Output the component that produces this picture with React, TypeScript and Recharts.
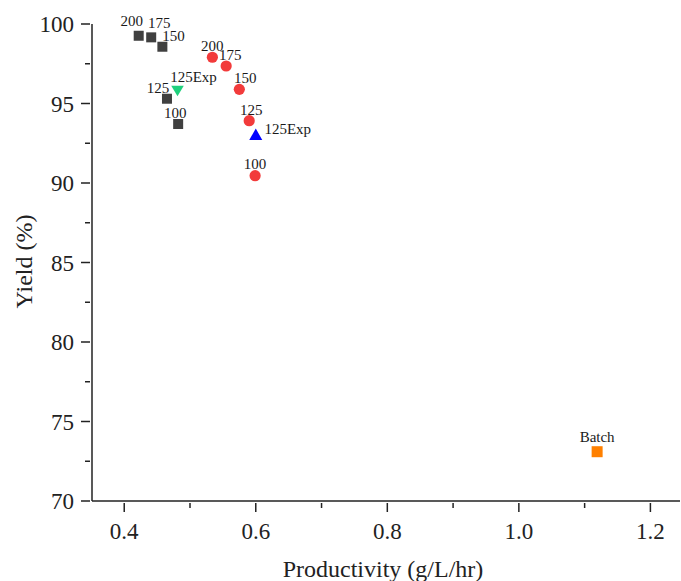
import { Label, LabelList, Scatter, ScatterChart, XAxis, YAxis } from 'recharts';

const SERIF = '"Liberation Serif", "Times New Roman", serif';

// residence-time labels shared by both simulated series
const sizeLabels = ['200', '175', '150', '125', '100'];

const grayX = [0.422, 0.441, 0.458, 0.465, 0.482];
const grayY = [99.26, 99.16, 98.57, 95.3, 93.71];

const redX = [0.534, 0.555, 0.575, 0.59, 0.599];
const redY = [97.91, 97.36, 95.89, 93.92, 90.46];

const greenX = [0.481];
const greenY = [95.79];
const greenLabels = ['125Exp'];

const blueX = [0.6];
const blueY = [93.06];
const blueLabels = ['125Exp'];

const batchX = [1.119];
const batchY = [73.1];
const batchLabels = ['Batch'];

const xTicks = [0.4, 0.5, 0.6, 0.7, 0.8, 0.9, 1.0, 1.1, 1.2];
const xTickLabels = ['0.4', '', '0.6', '', '0.8', '', '1.0', '', '1.2'];
const yTicks = [70, 72.5, 75, 77.5, 80, 82.5, 85, 87.5, 90, 92.5, 95, 97.5, 100];
const yTickLabels = ['70', '', '75', '', '80', '', '85', '', '90', '', '95', '', '100'];

function toPoints(xs: number[], ys: number[], labels: string[]) {
  return xs.map((x, i) => ({ x, y: ys[i], label: labels[i] }));
}

const grayData = toPoints(grayX, grayY, sizeLabels);
const redData = toPoints(redX, redY, sizeLabels);
const greenData = toPoints(greenX, greenY, greenLabels);
const blueData = toPoints(blueX, blueY, blueLabels);
const batchData = toPoints(batchX, batchY, batchLabels);

// label offsets (text centre relative to the marker), tuned by eye
const grayOffsets = [[-7, -15], [8, -14], [11, -11], [-9, -11], [-3, -11]];
const redOffsets = [[0, -11], [4, -11], [6, -11], [2, -11], [0, -12]];
const greenOffsets = [[16, -14]];
const blueOffsets = [[32, -5]];
const batchOffsets = [[0, -15]];

function pointLabel(offsets: number[][]) {
  return (props: any) => {
    const { x, y, width, height, value, index } = props;
    const cx = Number(x) + Number(width || 0) / 2;
    const cy = Number(y) + Number(height || 0) / 2;
    const [dx, dy] = offsets[index] || [0, -12];
    return (
      <text
        x={cx + dx}
        y={cy + dy}
        textAnchor="middle"
        dominantBaseline="central"
        fontFamily={SERIF}
        fontSize={15}
        fill="#1a1a1a"
      >
        {value}
      </text>
    );
  };
}

const square = (size: number, color: string) => (props: any) => (
  <rect x={props.cx - size / 2} y={props.cy - size / 2} width={size} height={size} fill={color} />
);

const circle = (r: number, color: string) => (props: any) => (
  <circle cx={props.cx} cy={props.cy} r={r} fill={color} />
);

const triangle = (w: number, h: number, color: string, down: boolean) => (props: any) => {
  const { cx, cy } = props;
  const pts = down
    ? `${cx - w / 2},${cy - h / 2} ${cx + w / 2},${cy - h / 2} ${cx},${cy + h / 2}`
    : `${cx - w / 2},${cy + h / 2} ${cx + w / 2},${cy + h / 2} ${cx},${cy - h / 2}`;
  return <polygon points={pts} fill={color} />;
};

function XTick(props: any) {
  const { x, y, payload } = props;
  const i = xTicks.indexOf(payload.value);
  const text = xTickLabels[i] || '';
  const len = text ? 9 : 5;
  return (
    <g>
      <line x1={x} x2={x} y1={y} y2={y + len} stroke="#222" strokeWidth={1.5} />
      {text && (
        <text x={x} y={y + 35.5} textAnchor="middle" fontFamily={SERIF} fontSize={23} fill="#222">
          {text}
        </text>
      )}
    </g>
  );
}

function YTick(props: any) {
  const { x, y, payload } = props;
  const i = yTicks.indexOf(payload.value);
  const text = yTickLabels[i] || '';
  const len = text ? 9 : 5;
  return (
    <g>
      <line x1={x} x2={x - len} y1={y} y2={y} stroke="#222" strokeWidth={1.5} />
      {text && (
        <text x={x - 16} y={y + 8} textAnchor="end" fontFamily={SERIF} fontSize={23} fill="#222">
          {text}
        </text>
      )}
    </g>
  );
}

export default function App() {
  return (
    <div style={{ width: 681, height: 581, background: '#fff' }}>
      <style>{'body{margin:0}'}</style>
      <ScatterChart width={681} height={581} margin={{ top: 24, right: 1, bottom: 0, left: 0 }}>
        <XAxis
          type="number"
          dataKey="x"
          domain={[0.351, 1.245]}
          allowDataOverflow
          ticks={xTicks}
          interval={0}
          height={80}
          tickSize={0}
          tickLine={false}
          tick={<XTick />}
          axisLine={{ stroke: '#222', strokeWidth: 1.5 }}
        >
          <Label
            content={(p: any) => {
              const vb = p.viewBox || { x: 92, y: 501, width: 588 };
              return (
                <text
                  x={vb.x + vb.width / 2 - 3}
                  y={vb.y + 75.5}
                  textAnchor="middle"
                  fontFamily={SERIF}
                  fontSize={24}
                  fill="#222"
                >
                  Productivity (g/L/hr)
                </text>
              );
            }}
          />
        </XAxis>
        <YAxis
          type="number"
          dataKey="y"
          domain={[70, 100]}
          allowDataOverflow
          ticks={yTicks}
          interval={0}
          width={92}
          tickSize={0}
          tickLine={false}
          tick={<YTick />}
          axisLine={{ stroke: '#222', strokeWidth: 1.5 }}
        >
          <Label
            content={(p: any) => {
              const vb = p.viewBox || { x: 0, y: 24, height: 477 };
              const cx = vb.x + 24;
              const cy = vb.y + vb.height / 2 - 1;
              return (
                <text
                  x={cx}
                  y={cy}
                  transform={`rotate(-90, ${cx}, ${cy})`}
                  textAnchor="middle"
                  dominantBaseline="central"
                  fontFamily={SERIF}
                  fontSize={24}
                  fill="#222"
                >
                  Yield (%)
                </text>
              );
            }}
          />
        </YAxis>
        <Scatter data={grayData} shape={square(10, '#404040')} isAnimationActive={false}>
          <LabelList dataKey="label" content={pointLabel(grayOffsets)} />
        </Scatter>
        <Scatter data={redData} shape={circle(5.6, '#f23b3b')} isAnimationActive={false}>
          <LabelList dataKey="label" content={pointLabel(redOffsets)} />
        </Scatter>
        <Scatter data={greenData} shape={triangle(12.5, 10.5, '#1fd07c', true)} isAnimationActive={false}>
          <LabelList dataKey="label" content={pointLabel(greenOffsets)} />
        </Scatter>
        <Scatter data={blueData} shape={triangle(13, 11.5, '#0000ff', false)} isAnimationActive={false}>
          <LabelList dataKey="label" content={pointLabel(blueOffsets)} />
        </Scatter>
        <Scatter data={batchData} shape={square(11, '#ff8000')} isAnimationActive={false}>
          <LabelList dataKey="label" content={pointLabel(batchOffsets)} />
        </Scatter>
      </ScatterChart>
    </div>
  );
}
